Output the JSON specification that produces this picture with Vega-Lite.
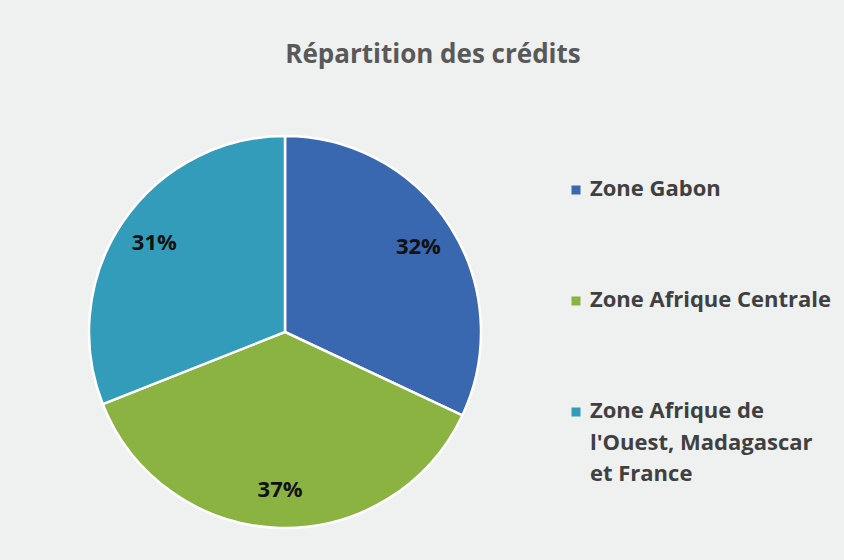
{
  "$schema": "https://vega.github.io/schema/vega-lite/v6.json",
  "autosize": "none",
  "width": 550,
  "height": 456,
  "padding": {"left": 10, "top": 104, "right": 284, "bottom": 0},
  "background": "#eff0f0",
  "title": {
    "text": "Répartition des crédits",
    "anchor": "middle",
    "dx": 148,
    "offset": 36,
    "font": "Open Sans",
    "fontSize": 26,
    "fontWeight": "bold",
    "color": "#595959"
  },
  "data": {
    "values": [
      {"zone": "Zone Gabon", "part": 0.32, "ordre": 1},
      {"zone": "Zone Afrique Centrale", "part": 0.37, "ordre": 2},
      {"zone": "Zone Afrique de l'Ouest, Madagascar et France", "part": 0.31, "ordre": 3}
    ]
  },
  "encoding": {
    "theta": {"field": "part", "type": "quantitative", "stack": true},
    "order": {"field": "ordre", "type": "quantitative"},
    "color": {
      "field": "zone",
      "type": "nominal",
      "scale": {
        "domain": ["Zone Gabon", "Zone Afrique Centrale", "Zone Afrique de l'Ouest, Madagascar et France"],
        "range": ["#3967b0", "#8ab342", "#339cba"]
      },
      "legend": {
        "title": null,
        "orient": "none",
        "legendX": 555,
        "legendY": 75,
        "symbolType": "square",
        "symbolSize": 81,
        "symbolStrokeWidth": 0,
        "labelFont": "Open Sans",
        "labelFontSize": 22,
        "labelFontWeight": "bold",
        "labelColor": "#404040",
        "labelLimit": 320,
        "labelOffset": 3,
        "rowPadding": 89,
        "labelExpr": "datum.label == \"Zone Afrique de l'Ouest, Madagascar et France\" ? ['Zone Afrique de', \"l'Ouest, Madagascar\", 'et France'] : datum.label",
        "labelBaseline": "top"
      }
    }
  },
  "layer": [
    {
      "mark": {"type": "arc", "outerRadius": 196, "stroke": "white", "strokeWidth": 2.5}
    },
    {
      "mark": {"type": "text", "radius": 158, "font": "Open Sans", "fontSize": 22, "fontWeight": "bold"},
      "encoding": {
        "text": {"field": "part", "type": "quantitative", "format": ".0%"},
        "color": {"value": "#111111"}
      }
    }
  ],
  "config": {
    "view": {"stroke": null},
    "style": {"guide-label": {"dy": -11, "lineHeight": 31.5}}
  }
}
